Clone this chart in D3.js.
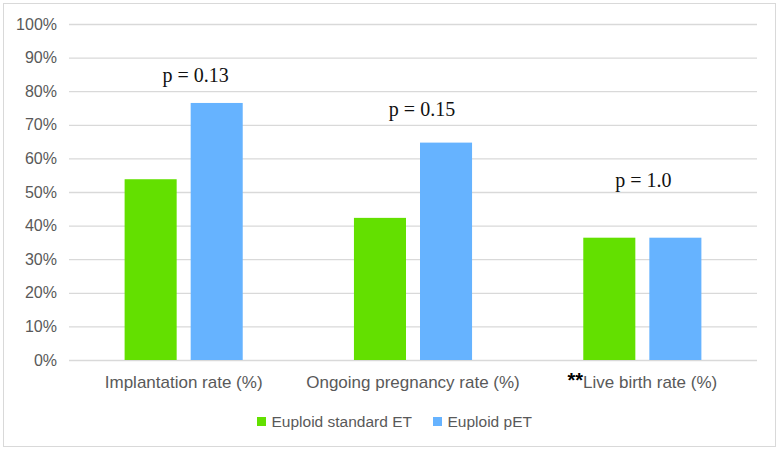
<!DOCTYPE html>
<html><head><meta charset="utf-8">
<script src="https://cdn.jsdelivr.net/npm/d3@7"></script>
<style>body{margin:0;background:#fff}svg{display:block}</style>
</head><body>
<svg id="c" width="780" height="450"></svg>
<script>
const categories = ["Implantation rate (%)", "Ongoing pregnancy rate (%)", "Live birth rate (%)"];
const categoryPrefix = ["", "", "**"];
const seriesNames = ["Euploid standard ET", "Euploid pET"];
const standardET = [53.8, 42.3, 36.4];
const pET = [76.5, 64.7, 36.4];
const pValues = ["p = 0.13", "p = 0.15", "p = 1.0"];
const pLabelLevel = [82.6, 72.6, 51.6];
const yTicks = [0, 10, 20, 30, 40, 50, 60, 70, 80, 90, 100];
const colors = ["#63e000", "#66b3ff"];

const sans = "'Liberation Sans', Arial, Helvetica, sans-serif";
const svg = d3.select("#c");
svg.append("rect").attr("x", 3.5).attr("y", 3.5).attr("width", 772).attr("height", 443)
  .attr("fill", "#fff").attr("stroke", "#d9d9d9");

const m = {l: 69, r: 757, t: 24, b: 360};
const x0 = d3.scaleBand().domain(categories).range([m.l, m.r]).paddingInner(0.485).paddingOuter(0.2425);
const x1 = d3.scaleBand().domain(seriesNames).range([0, x0.bandwidth()]).paddingInner(0.212).paddingOuter(0);
const y = d3.scaleLinear().domain([0, 100]).range([m.b, m.t]);

const yAxis = svg.append("g").attr("transform", `translate(${m.l},0)`)
  .call(d3.axisLeft(y).tickValues(yTicks).tickSize(-(m.r - m.l)).tickFormat(d => d + "%"));
yAxis.select(".domain").remove();
yAxis.selectAll(".tick line").attr("stroke", "#d9d9d9").attr("stroke-width", 1.3);
yAxis.selectAll(".tick text").attr("x", -12).attr("fill", "#595959")
  .style("font-family", sans).style("font-size", "16px");

const data = categories.map((c, i) => ({c, vals: [standardET[i], pET[i]]}));
const g = svg.append("g");
data.forEach(d => {
  g.selectAll(null).data(d.vals).enter().append("rect")
    .attr("x", (v, j) => x0(d.c) + x1(seriesNames[j]))
    .attr("y", v => y(v))
    .attr("width", x1.bandwidth())
    .attr("height", v => y(0) - y(v))
    .attr("fill", (v, j) => colors[j]);
});

// category labels
const xl = svg.append("g");
categories.forEach((c, i) => {
  const t = xl.append("text").attr("x", x0(c) + x0.bandwidth() / 2).attr("y", 388)
    .attr("text-anchor", "middle")
    .style("font-family", sans).style("font-size", "17px")
    .attr("fill", "#595959");
  if (categoryPrefix[i]) t.append("tspan").text(categoryPrefix[i]).attr("fill", "#000")
    .attr("font-weight", "bold").style("font-size", "20px").attr("dy", -1);
  t.append("tspan").text(c).attr("dy", categoryPrefix[i] ? 1 : 0);
});

// p-value annotations
const pOffsets = [12, 9, 1];
categories.forEach((c, i) => {
  svg.append("text").attr("x", x0(c) + x0.bandwidth() / 2 + pOffsets[i]).attr("y", y(pLabelLevel[i]))
    .attr("text-anchor", "middle")
    .style("font-family", "'Liberation Serif', 'Times New Roman', serif").style("font-size", "20px")
    .attr("fill", "#111").text(pValues[i]);
});

// legend
const lg = svg.append("g");
const legX = [257, 433];
seriesNames.forEach((s, j) => {
  lg.append("rect").attr("x", legX[j]).attr("y", 417).attr("width", 9).attr("height", 9).attr("fill", colors[j]);
  lg.append("text").attr("x", legX[j] + 14.5).attr("y", 426.5).text(s).attr("fill", "#595959")
    .style("font-family", sans).style("font-size", "15.5px");
});
</script>
</body></html>
